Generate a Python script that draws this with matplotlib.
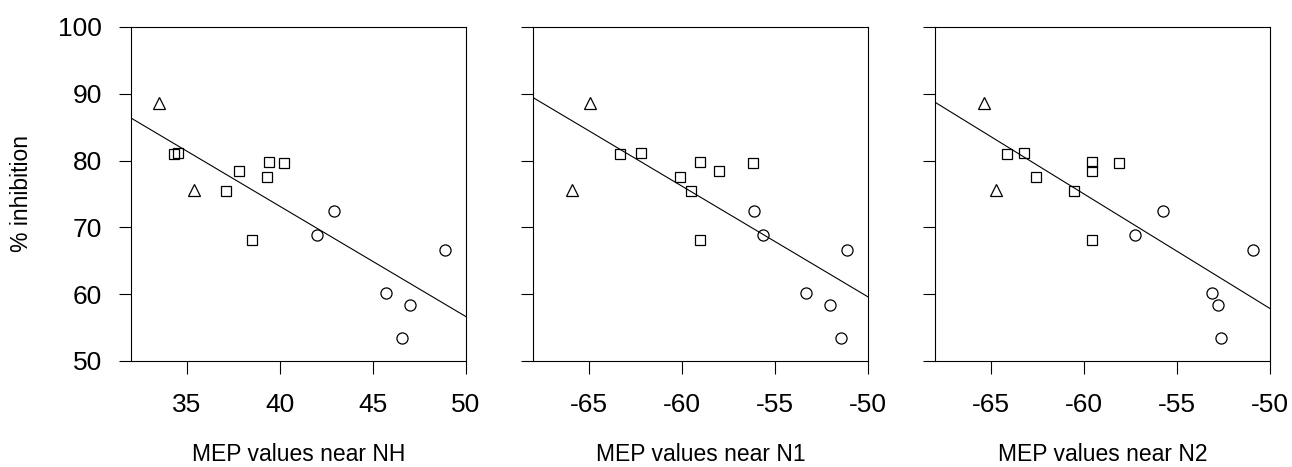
import numpy as np
import matplotlib
matplotlib.use("Agg")
import matplotlib.pyplot as plt

plt.rcParams['font.family'] = ['Liberation Sans', 'DejaVu Sans']
plt.rcParams['axes.unicode_minus'] = False

# % inhibition per subject (same subjects in every panel)
inhibition = [88.6, 75.6,                                      # triangles
              81.0, 81.2, 78.4, 75.5, 79.8, 79.7, 77.6, 68.1,  # squares
              72.5, 68.8, 66.6, 60.2, 58.4, 53.5]              # circles
group = ['t', 't',
         's', 's', 's', 's', 's', 's', 's', 's',
         'c', 'c', 'c', 'c', 'c', 'c']

mep_nh = [33.5, 35.39,
          34.30, 34.52, 37.80, 37.10, 39.43, 40.20, 39.32, 38.49,
          42.89, 41.97, 48.89, 45.68, 46.99, 46.58]
mep_n1 = [-64.93, -65.91,
          -63.32, -62.23, -58.02, -59.52, -59.02, -56.21, -60.11, -59.02,
          -56.14, -55.64, -51.15, -53.35, -52.04, -51.47]
mep_n2 = [-65.39, -64.71,
          -64.11, -63.21, -59.54, -60.54, -59.54, -58.11, -62.60, -59.54,
          -55.73, -57.23, -50.94, -53.13, -52.82, -52.62]

panels = [
    (mep_nh, "MEP values near NH", (32, 50), [35, 40, 45, 50]),
    (mep_n1, "MEP values near N1", (-68, -50), [-65, -60, -55, -50]),
    (mep_n2, "MEP values near N2", (-68, -50), [-65, -60, -55, -50]),
]
markers = {'t': ('^', 8.5), 's': ('s', 7.2), 'c': ('o', 8.0)}

fig = plt.figure(figsize=(12.92, 4.67), dpi=100)
lefts = [131 / 1292, 533.3 / 1292, 935 / 1292]
W, H = 335 / 1292, 334 / 467
B = (467 - 361) / 467

y = np.array(inhibition)
for i, (xv, label, xlim, xt) in enumerate(panels):
    ax = fig.add_axes([lefts[i], B, W, H])
    x = np.array(xv)
    for g, (m, ms) in markers.items():
        sel = np.array([gg == g for gg in group])
        ax.plot(x[sel], y[sel], linestyle='none', marker=m, ms=ms,
                mfc='none', mec='black', mew=0.9)
    slope, intercept = np.polyfit(x, y, 1)
    xx = np.array(xlim)
    ax.plot(xx, slope * xx + intercept, color='black', lw=0.8)
    ax.set_xlim(*xlim)
    ax.set_ylim(50, 100)
    ax.set_xticks(xt)
    ax.set_yticks([50, 60, 70, 80, 90, 100])
    ax.tick_params(direction='out', length=9, width=0.8, labelsize=19)
    ax.tick_params(axis='x', pad=14)
    ax.tick_params(axis='y', pad=12)
    for s in ax.spines.values():
        s.set_linewidth(0.8)
    ax.set_xlabel(label, fontsize=16.5, labelpad=19)
    if i == 0:
        ax.set_ylabel("% inhibition", fontsize=16.5, labelpad=18)
    else:
        ax.set_yticklabels([])

fig.savefig("out.png", dpi=100)
